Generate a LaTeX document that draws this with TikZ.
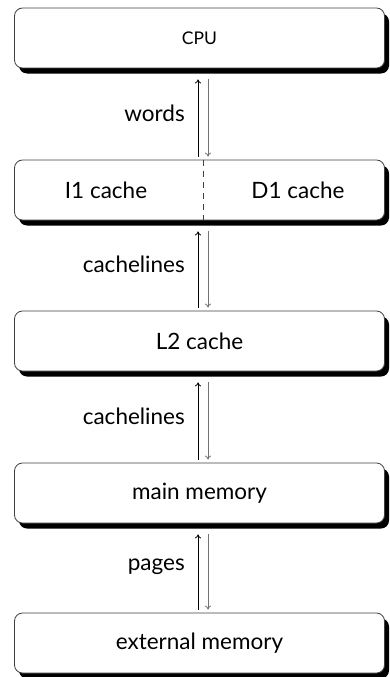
\documentclass[tikz,border=0pt]{standalone}
\usepackage{fontspec}
\setmainfont{Lato}
\usetikzlibrary{calc,shadows,arrows.meta}
\tikzset{
  txt/.style={font=\fontsize{22.5}{26}\selectfont},
  level/.style={draw=black!75, line width=0.8pt, rounded corners=8pt, fill=white,
    minimum width=370pt, minimum height=60pt, inner sep=0pt,
    drop shadow={shadow xshift=4.5pt, shadow yshift=-5.5pt, opacity=1, fill=black},
    txt},
  lbl/.style={anchor=east, inner sep=0pt, txt},
  up/.style={-{To[length=4pt,width=6pt]}, line width=0.8pt, black},
  down/.style={-{To[length=4pt,width=6pt]}, line width=0.8pt, black!55},
}
\begin{document}
\begin{tikzpicture}[x=1pt, y=-1pt]
\useasboundingbox (0,0) rectangle (389,677);
% memory hierarchy levels
\node[level, font=\fontsize{17.5}{21}\selectfont] (cpu) at (199.5,38) {CPU};
\node[level] (l1) at (199.5,190) {};
\node[level] (l2) at (199.5,341) {L2 cache};
\node[level] (mem) at (199.5,493) {main memory};
\node[level] (ext) at (199.5,643) {external memory};
% split first-level cache
\draw[dashed, dash pattern=on 6pt off 5pt, line width=0.8pt, black!75]
  ([xshift=3.5pt]l1.north) -- ([xshift=3.5pt]l1.south);
\node[txt] (i1) at (106,190) {I1 cache};
\node[txt] (d1) at (298,190) {D1 cache};
% transfers between levels
\foreach \a/\b/\t in {cpu/l1/words, l1/l2/cachelines, l2/mem/cachelines, mem/ext/pages}{
  \draw[up, shorten <=3pt, shorten >=11pt] ([xshift=-1.5pt]\b.north) -- ([xshift=-1.5pt]\a.south);
  \draw[down, shorten <=11pt, shorten >=3pt] ([xshift=8.5pt]\a.south) -- ([xshift=8.5pt]\b.north);
  \node[lbl] (lbl-\a) at ($(\a.south)!0.5!(\b.north)+(-14.5,-1)$) {\t};
}
\end{tikzpicture}
\end{document}
